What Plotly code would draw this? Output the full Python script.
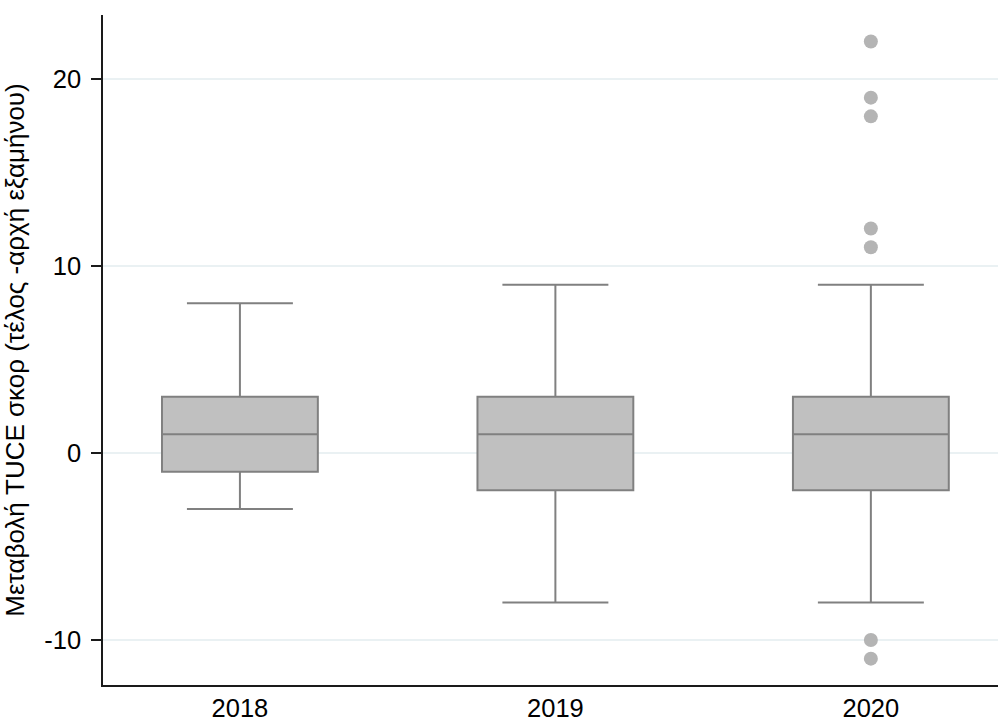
import plotly.graph_objects as go

# Summary statistics of the change in TUCE score, per year
years = ["2018", "2019", "2020"]
q1 = [-1, -2, -2]
median = [1, 1, 1]
q3 = [3, 3, 3]
lower_whisker = [-3, -8, -8]
upper_whisker = [8, 9, 9]

# Values beyond the whiskers
outlier_years = ["2020", "2020", "2020", "2020", "2020", "2020", "2020"]
outlier_values = [22, 19, 18, 12, 11, -10, -11]

y_ticks = [-10, 0, 10, 20]

FONT = "Liberation Sans, Arial, sans-serif"
TICK_SIZE = 25.5

fig = go.Figure()

fig.add_trace(go.Box(
    x=years,
    q1=q1,
    median=median,
    q3=q3,
    lowerfence=lower_whisker,
    upperfence=upper_whisker,
    fillcolor="#c0c0c0",
    line=dict(color="#808080", width=2),
    width=0.494,
    whiskerwidth=0.68,
    boxpoints=False,
    hoverinfo="skip",
    showlegend=False,
))

fig.add_trace(go.Scatter(
    x=outlier_years,
    y=outlier_values,
    mode="markers",
    marker=dict(color="#b4b4b4", size=14, line=dict(width=0)),
    showlegend=False,
    hoverinfo="skip",
))

fig.update_layout(
    width=998,
    height=722,
    margin=dict(l=103, r=0, t=15, b=37),
    paper_bgcolor="white",
    plot_bgcolor="white",
    font=dict(family=FONT, size=TICK_SIZE, color="black"),
    xaxis=dict(
        type="category",
        categoryorder="array",
        categoryarray=years,
        range=[-0.434, 2.403],
        showline=True,
        linecolor="#1a1a1a",
        linewidth=1.5,
        ticks="",
        showgrid=False,
        zeroline=False,
        ticklabelstandoff=0,
        tickfont=dict(family=FONT, size=TICK_SIZE, color="black"),
        automargin=False,
    ),
    yaxis=dict(
        range=[-12.41, 23.42],
        tickvals=y_ticks,
        ticktext=[str(v) for v in y_ticks],
        showline=True,
        linecolor="#1a1a1a",
        linewidth=1.5,
        ticks="outside",
        ticklen=10,
        tickwidth=1.5,
        tickcolor="#1a1a1a",
        ticklabelstandoff=5,
        showgrid=True,
        gridcolor="#eaf1f3",
        gridwidth=1.5,
        zeroline=False,
        tickfont=dict(family=FONT, size=TICK_SIZE, color="black"),
        title=dict(
            text="Μεταβολή TUCE σκορ (τέλος -αρχή εξαμήνου)",
            font=dict(family=FONT, size=26, color="black"),
            standoff=13,
        ),
        automargin=False,
    ),
)

fig.write_html("out.html")
